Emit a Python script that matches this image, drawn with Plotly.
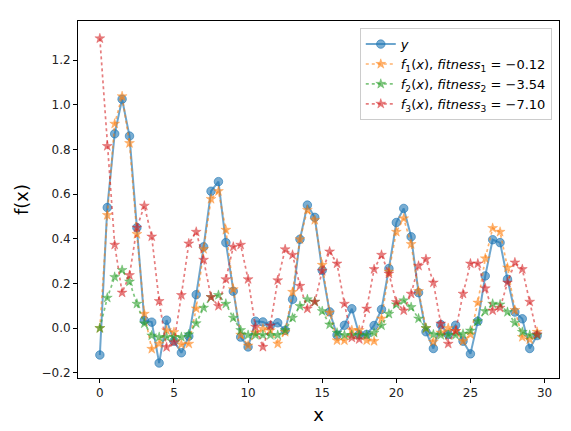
import plotly.graph_objects as go

x = [0.0, 0.5, 1.0, 1.5, 2.0, 2.5, 3.0, 3.5, 4.0, 4.5,
     5.0, 5.5, 6.0, 6.5, 7.0, 7.5, 8.0, 8.5, 9.0, 9.5,
     10.0, 10.5, 11.0, 11.5, 12.0, 12.5, 13.0, 13.5, 14.0, 14.5,
     15.0, 15.5, 16.0, 16.5, 17.0, 17.5, 18.0, 18.5, 19.0, 19.5,
     20.0, 20.5, 21.0, 21.5, 22.0, 22.5, 23.0, 23.5, 24.0, 24.5,
     25.0, 25.5, 26.0, 26.5, 27.0, 27.5, 28.0, 28.5, 29.0, 29.5]

y = [-0.12, 0.54, 0.87, 1.025, 0.86, 0.45, 0.035, 0.027, -0.156, 0.036,
     -0.058, -0.11, -0.036, 0.15, 0.364, 0.613, 0.656, 0.383, 0.165, -0.04,
     -0.084, 0.031, 0.028, 0.012, 0.024, -0.01, 0.129, 0.398, 0.551, 0.496,
     0.259, 0.073, -0.031, 0.013, 0.087, -0.028, -0.028, 0.012, 0.084, 0.267,
     0.473, 0.536, 0.409, 0.159, -0.016, -0.091, 0.016, -0.028, 0.013, -0.058,
     -0.115, 0.031, 0.234, 0.396, 0.383, 0.219, 0.072, 0.042, -0.091, -0.033]

f1 = [0.0, 0.506, 0.915, 1.038, 0.828, 0.421, 0.064, -0.093, -0.07, -0.01,
      -0.018, -0.073, -0.07, 0.088, 0.354, 0.578, 0.613, 0.44, 0.174, -0.03,
      -0.078, -0.02, -0.003, -0.01, -0.07, -0.017, 0.162, 0.398, 0.529, 0.484,
      0.283, 0.07, -0.055, -0.055, -0.009, -0.009, -0.055, -0.058, 0.043, 0.253,
      0.431, 0.491, 0.376, 0.166, 0.0, -0.061, -0.02, 0.0, -0.013, -0.058,
      -0.028, 0.114, 0.312, 0.448, 0.431, 0.271, 0.081, -0.04, -0.051, -0.017]

f2 = [0.0, 0.136, 0.229, 0.26, 0.208, 0.109, 0.021, -0.033, -0.04, -0.04,
      -0.04, -0.04, -0.028, 0.022, 0.091, 0.139, 0.148, 0.109, 0.046, -0.009,
      -0.031, -0.031, -0.031, -0.031, -0.031, -0.009, 0.046, 0.099, 0.129, 0.118,
      0.076, 0.016, -0.021, -0.031, -0.031, -0.031, -0.031, -0.021, 0.012, 0.064,
      0.106, 0.124, 0.094, 0.043, 0.0, -0.028, -0.031, -0.031, -0.031, -0.026,
      -0.011, 0.031, 0.076, 0.109, 0.106, 0.072, 0.024, -0.017, -0.031, -0.031]

f3 = [1.297, 0.815, 0.373, 0.159, 0.237, 0.45, 0.548, 0.41, 0.121, -0.085,
      -0.063, 0.148, 0.379, 0.431, 0.306, 0.139, 0.099, 0.219, 0.364, 0.373,
      0.219, 0.006, -0.084, 0.012, 0.214, 0.353, 0.328, 0.189, 0.087, 0.118,
      0.256, 0.343, 0.289, 0.109, -0.043, -0.05, 0.087, 0.264, 0.328, 0.244,
      0.117, 0.079, 0.154, 0.279, 0.309, 0.204, 0.02, -0.07, -0.013, 0.154,
      0.289, 0.289, 0.178, 0.079, 0.091, 0.204, 0.294, 0.264, 0.118, -0.028]

names = [
    "<i>y</i>",
    "<i>f</i><sub>1</sub>(<i>x</i>), <i>fitness</i><sub>1</sub> = \u22120.12",
    "<i>f</i><sub>2</sub>(<i>x</i>), <i>fitness</i><sub>2</sub> = \u22123.54",
    "<i>f</i><sub>3</sub>(<i>x</i>), <i>fitness</i><sub>3</sub> = \u22127.10",
]

fig = go.Figure()
fig.add_trace(go.Scatter(
    x=x, y=y, name=names[0], mode="lines+markers",
    line=dict(color="rgba(31,119,180,0.65)", width=2),
    marker=dict(symbol="circle", size=8.5, color="rgba(31,119,180,0.6)",
                line=dict(color="rgba(31,119,180,0.6)", width=1)),
))
star_cols = ["rgba(255,127,14,0.6)", "rgba(44,160,44,0.6)", "rgba(214,39,40,0.6)"]
for nm, vals, c in zip(names[1:], [f1, f2, f3], star_cols):
    fig.add_trace(go.Scatter(
        x=x, y=vals, name=nm, mode="lines+markers",
        line=dict(color=c, width=1.7, dash="dot"),
        marker=dict(symbol="star", size=7.5, color=c, line=dict(color=c, width=0.5)),
    ))

axis_common = dict(
    showline=True, linecolor="black", linewidth=1, mirror=True,
    ticks="outside", ticklen=4, tickcolor="black", showgrid=False, zeroline=False,
    tickfont=dict(family="DejaVu Sans", size=12, color="#222"),
)
fig.update_xaxes(range=[-1.475, 30.975], tickmode="array",
                 tickvals=[0, 5, 10, 15, 20, 25, 30],
                 title=dict(text="x", font=dict(family="DejaVu Sans", size=18, color="black"), standoff=8),
                 **axis_common)
fig.update_yaxes(range=[-0.223, 1.375], tickmode="array",
                 tickvals=[-0.2, 0.0, 0.2, 0.4, 0.6, 0.8, 1.0, 1.2], tickformat=".1f",
                 title=dict(text="f(x)", font=dict(family="DejaVu Sans", size=18, color="black"), standoff=8),
                 **axis_common)
fig.update_layout(
    width=571, height=431,
    margin=dict(l=70, r=20, t=13, b=61),
    paper_bgcolor="white", plot_bgcolor="white",
    font=dict(family="DejaVu Sans", color="black"),
    legend=dict(x=0.985, y=0.98, xanchor="right", yanchor="top",
                bgcolor="rgba(255,255,255,0.8)", bordercolor="#cccccc", borderwidth=1,
                font=dict(family="DejaVu Sans", size=13)),
    showlegend=True,
)
fig.write_html("out.html")
